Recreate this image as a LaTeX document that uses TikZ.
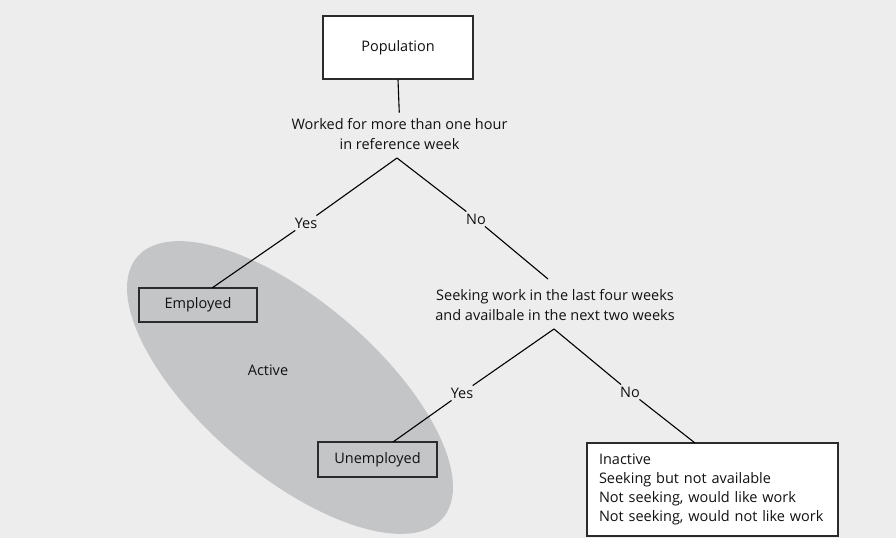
\documentclass[tikz,border=0pt]{standalone}
\usepackage{fontspec}
\setmainfont{Open Sans}
\definecolor{bggray}{HTML}{EDEDED}
\definecolor{ellgray}{HTML}{C4C5C7}
\definecolor{boxline}{HTML}{2B2B2B}
\definecolor{txt}{HTML}{111111}
\begin{document}
\begin{tikzpicture}[x=1pt,y=-1pt,
  every node/.style={font=\fontsize{14.5}{19.2}\selectfont, text=txt},
  box/.style={draw=boxline, line width=1.4pt, inner sep=0pt},
  qtext/.style={align=center, inner sep=0pt},
  lbl/.style={inner sep=2pt},
  conn/.style={draw=black, line width=1.1pt}]
\useasboundingbox (0,0) rectangle (896,538);
\fill[bggray] (0,0) rectangle (896,538);
% Active ellipse
\fill[ellgray, rotate around={-40.5:(290,387.5)}] (290,387.5) ellipse [x radius=201pt, y radius=87pt];
\node (active) at (268,370) {Active};
% nodes
\node[box, fill=white, minimum width=150pt, minimum height=63pt] (pop) at (398,47.5) {Population};
\node[qtext] (q1) at (399.5,134) {Worked for more than one hour\\in reference week};
\coordinate (apex1) at (397,158);
\node[lbl] (yes1) at (306,223) {Yes};
\node[lbl] (no1) at (476,219) {No};
\node[box, minimum width=118pt, minimum height=34pt] (emp) at (198,305) {Employed};
\coordinate (empTop) at (212,288);
\node[qtext] (q2) at (555,305) {Seeking work in the last four weeks\\and availbale in the next two weeks};
\coordinate (q2in) at (548,279);
\coordinate (apex2) at (554,329);
\node[lbl] (yes2) at (462,393) {Yes};
\node[lbl] (no2) at (630,392) {No};
\node[box, minimum width=119pt, minimum height=35pt] (unemp) at (377.5,459.5) {Unemployed};
\coordinate (unempTop) at (393,442);
\node[box, fill=white, minimum width=251pt, minimum height=93pt, text width=227pt, align=left, inner xsep=12pt, inner ysep=4pt] (inact) at (712.5,489.5)
  {Inactive\\Seeking but not available\\Not seeking, would like work\\Not seeking, would not like work};
\coordinate (inactTop) at (695,443);
% connectors
\draw[conn, shorten >=6pt] (pop.south) -- (q1.north);
\draw[conn] (apex1) -- (yes1);
\draw[conn] (yes1) -- (empTop);
\draw[conn] (apex1) -- (no1);
\draw[conn] (no1) -- (q2in);
\draw[conn] (apex2) -- (yes2);
\draw[conn] (yes2) -- (unempTop);
\draw[conn] (apex2) -- (no2);
\draw[conn] (no2) -- (inactTop);
\end{tikzpicture}
\end{document}
